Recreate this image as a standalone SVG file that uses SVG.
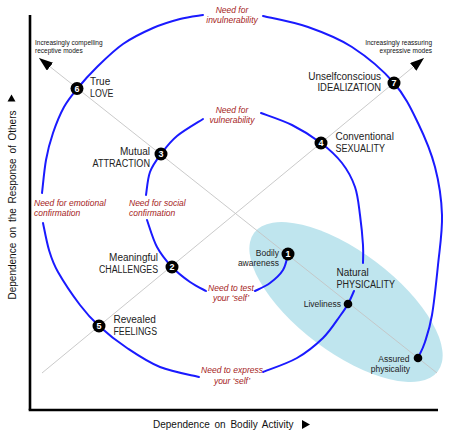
<svg xmlns="http://www.w3.org/2000/svg" width="450" height="435" viewBox="0 0 450 435">
<defs>
<style>
.axis{stroke:#000;stroke-width:2.6;fill:none}
.diag{stroke:#c4c4c4;stroke-width:0.9;fill:none}
.spiral{stroke:#1a1aff;stroke-width:2;fill:none;stroke-linecap:round}
.node{fill:#000}
.num{font-family:"Liberation Sans",Arial,sans-serif;font-size:9px;font-weight:bold;fill:#fff;text-anchor:middle}
.lbl{font-family:"Liberation Sans",Arial,sans-serif;font-size:10px;fill:#222}
.sm{font-family:"Liberation Sans",Arial,sans-serif;font-size:8.5px;fill:#222}
.tiny{font-family:"Liberation Sans",Arial,sans-serif;font-size:6.5px;fill:#111}
.need{font-family:"Liberation Sans",Arial,sans-serif;font-size:8.5px;font-style:italic;fill:#a51c22}
.ax{font-family:"Liberation Sans",Arial,sans-serif;font-size:10px;fill:#111;word-spacing:2px}
.end{text-anchor:end}
.mid{text-anchor:middle}
</style>
<marker id="arr" markerUnits="userSpaceOnUse" markerWidth="16" markerHeight="12" refX="14" refY="5" orient="auto">
<path d="M0,0 L14,5 L0,10 z" fill="#000"/>
</marker>
</defs>

<ellipse id="physicality-zone" cx="346" cy="302" rx="115" ry="50" transform="rotate(37 346 302)" fill="#bfe5ee"/>

<g id="axes">
<line class="axis" x1="30" y1="15" x2="30" y2="410"/>
<line class="axis" x1="28.7" y1="410" x2="438" y2="410"/>
<text class="ax" transform="translate(16,205) rotate(-90)" text-anchor="middle">Dependence on the Response of Others</text>
<polygon points="11.5,94.5 15.5,101.5 7.5,101.5" fill="#000"/>
<text class="ax" x="153" y="427.5">Dependence on Bodily Activity</text>
<polygon points="302,420 310,424.5 302,429" fill="#000"/>
</g>

<g id="connectors">
<line class="diag" x1="437" y1="373" x2="39" y2="58" marker-end="url(#arr)"/>
<line class="diag" x1="42" y1="373" x2="424" y2="58" marker-end="url(#arr)"/>
<path class="spiral" d="M288,254 C287.2,256.7 286,265.2 283,270 C280,274.8 274.7,279.5 270,283 C265.3,286.5 257.5,289.7 255,291"/>
<path class="spiral" d="M206,291 C203.3,289.5 195.7,286 190,282 C184.3,278 177.5,272.8 172,267 C166.5,261.2 161.2,254.8 157,247 C152.8,239.2 148.7,224.5 147,220"/>
<path class="spiral" d="M146,195 C146.7,191.2 147.5,178.8 150,172 C152.5,165.2 156.5,160 161,154 C165.5,148 170,141.8 177,136 C184,130.2 198.7,121.8 203,119"/>
<path class="spiral" d="M261,113 C266.2,115 282,120 292,125 C302,130 312.7,136.7 321,143 C329.3,149.3 336.3,155.7 342,163 C347.7,170.3 352,178.3 355,187 C358,195.7 358.7,205.3 360,215 C361.3,224.7 362.5,237 363,245 C363.5,253 363,260 363,263"/>
<path class="spiral" d="M354,291 C353,293.2 350.3,299.8 348,304 C345.7,308.2 344.2,310.3 340,316 C335.8,321.7 330.2,331 323,338 C315.8,345 307,352.3 297,358 C287,363.7 268.7,369.7 263,372"/>
<path class="spiral" d="M199,377 C192.5,375.3 172,371.8 160,367 C148,362.2 137.2,354.8 127,348 C116.8,341.2 106.8,333.2 99,326 C91.2,318.8 86.8,314 80,305 C73.2,296 63.2,281.2 58,272 C52.8,262.8 51.5,258.2 49,250 C46.5,241.8 44,227.5 43,223"/>
<path class="spiral" d="M42,193 C42.7,187.5 44.2,170 46,160 C47.8,150 50,141.8 53,133 C56,124.2 60,114.3 64,107 C68,99.7 71.5,95.7 77,89 C82.5,82.3 89.3,74.5 97,67 C104.7,59.5 113.7,50.5 123,44 C132.3,37.5 143.5,32.2 153,28 C162.5,23.8 171.7,21.2 180,19 C188.3,16.8 199.2,15.7 203,15"/>
<path class="spiral" d="M263,16 C270.5,17.8 293.2,21.8 308,27 C322.8,32.2 337.7,37.7 352,47 C366.3,56.3 383,70.3 394,83 C405,95.7 411.2,109 418,123 C424.8,137 431,151.7 435,167 C439,182.3 441.5,198.7 442,215 C442.5,231.3 439.7,248.3 438,265 C436.3,281.7 434.2,302.2 432,315 C429.8,327.8 427.3,334.8 425,342 C422.7,349.2 419.2,355.3 418,358"/>
</g>

<g id="mode-labels">
<text class="tiny" x="35" y="45">Increasingly compelling</text>
<text class="tiny" x="35" y="53">receptive modes</text>
<text class="tiny end" x="432" y="45">Increasingly reassuring</text>
<text class="tiny end" x="432" y="53">expressive modes</text>
</g>

<g id="needs">
<text class="need mid" x="232" y="13">Need for</text>
<text class="need mid" x="232" y="23">invulnerability</text>
<text class="need mid" x="232" y="113">Need for</text>
<text class="need mid" x="232" y="123">vulnerability</text>
<text class="need" x="129" y="206">Need for social</text>
<text class="need" x="129" y="216">confirmation</text>
<text class="need" x="34" y="206">Need for emotional</text>
<text class="need" x="34" y="216">confirmation</text>
<text class="need mid" x="231" y="291">Need to test</text>
<text class="need mid" x="231" y="301">your ‘self’</text>
<text class="need mid" x="232" y="373">Need to express</text>
<text class="need mid" x="232" y="383.5">your ‘self’</text>
</g>

<g id="node-1">
<circle class="node" cx="288" cy="254" r="6.5"/>
<text class="num" x="288" y="257.3">1</text>
<text class="sm end" x="279" y="255.5">Bodily</text>
<text class="sm end" x="279" y="265.5">awareness</text>
</g>
<g id="node-2">
<circle class="node" cx="172" cy="267" r="6.5"/>
<text class="num" x="172" y="270.3">2</text>
<text class="lbl end" x="158" y="261">Meaningful</text>
<text class="lbl end" x="158" y="272.5" textLength="59" lengthAdjust="spacingAndGlyphs">CHALLENGES</text>
</g>
<g id="node-3">
<circle class="node" cx="161" cy="154" r="6.5"/>
<text class="num" x="161" y="157.3">3</text>
<text class="lbl end" x="150" y="155">Mutual</text>
<text class="lbl end" x="150" y="167" textLength="57.5" lengthAdjust="spacingAndGlyphs">ATTRACTION</text>
</g>
<g id="node-4">
<circle class="node" cx="321" cy="143" r="6.5"/>
<text class="num" x="321" y="146.3">4</text>
<text class="lbl" x="335.5" y="140">Conventional</text>
<text class="lbl" x="335.5" y="152" textLength="49.5" lengthAdjust="spacingAndGlyphs">SEXUALITY</text>
</g>
<g id="node-5">
<circle class="node" cx="99" cy="326" r="6.5"/>
<text class="num" x="99" y="329.3">5</text>
<text class="lbl" x="113.5" y="323">Revealed</text>
<text class="lbl" x="113.5" y="334.5" textLength="43.5" lengthAdjust="spacingAndGlyphs">FEELINGS</text>
</g>
<g id="node-6">
<circle class="node" cx="77" cy="88.5" r="6.5"/>
<text class="num" x="77" y="91.8">6</text>
<text class="lbl" x="90" y="84.5">True</text>
<text class="lbl" x="90" y="96.5" textLength="23.5" lengthAdjust="spacingAndGlyphs">LOVE</text>
</g>
<g id="node-7">
<circle class="node" cx="394" cy="83" r="6.5"/>
<text class="num" x="394" y="86.3">7</text>
<text class="lbl end" x="381" y="79.5">Unselfconscious</text>
<text class="lbl end" x="381" y="91" textLength="63.5" lengthAdjust="spacingAndGlyphs">IDEALIZATION</text>
</g>
<g id="natural-physicality">
<text class="lbl" x="336.5" y="276">Natural</text>
<text class="lbl" x="336.5" y="287.5" textLength="58.5" lengthAdjust="spacingAndGlyphs">PHYSICALITY</text>
</g>
<g id="liveliness">
<circle class="node" cx="348" cy="304" r="4.3"/>
<text class="sm end" x="341" y="307">Liveliness</text>
</g>
<g id="assured-physicality">
<circle class="node" cx="418" cy="358" r="4.3"/>
<text class="sm end" x="409.5" y="362">Assured</text>
<text class="sm end" x="410" y="371.5">physicality</text>
</g>
</svg>
